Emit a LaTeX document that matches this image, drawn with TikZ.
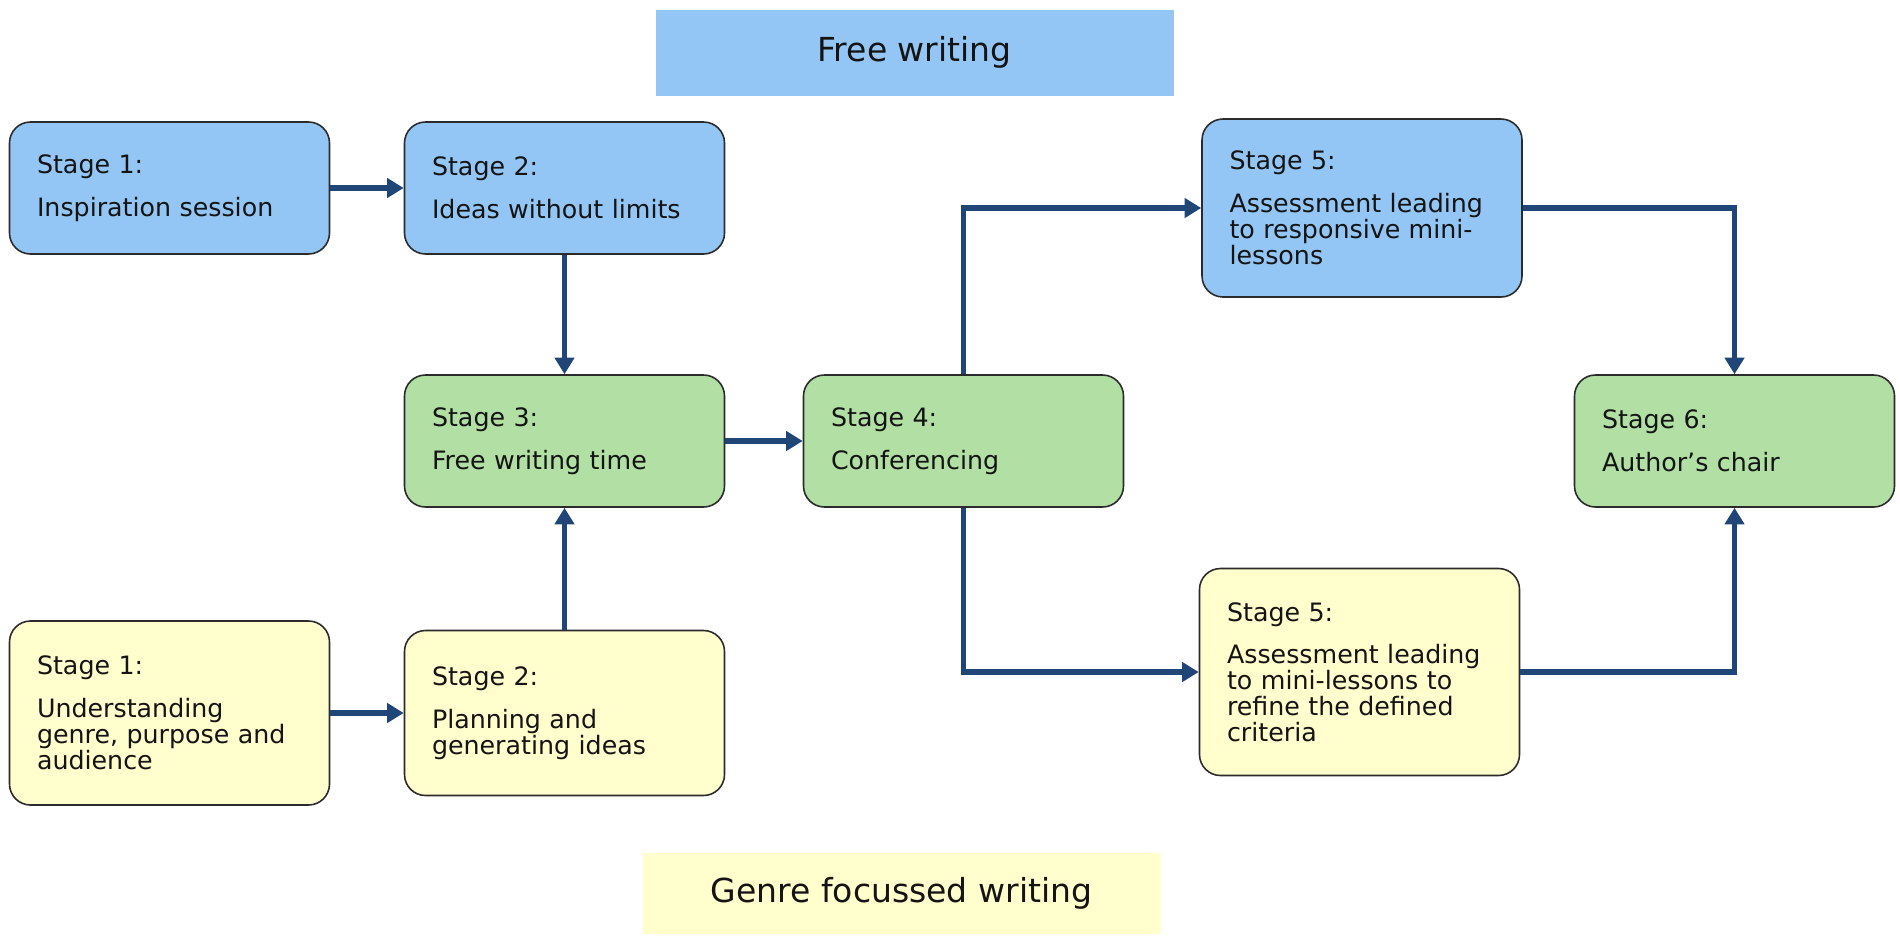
\documentclass[tikz,border=0pt]{standalone}
\usepackage{fontspec}
\setmainfont{DejaVu Sans}
\usetikzlibrary{arrows.meta,positioning}
\definecolor{ink}{HTML}{141414}
\definecolor{edge}{HTML}{2B2B2B}
\definecolor{flow}{HTML}{1F4676}
\definecolor{freefill}{HTML}{93C6F4}
\definecolor{sharedfill}{HTML}{B2DFA4}
\definecolor{genrefill}{HTML}{FFFECC}

\begin{document}
\begin{tikzpicture}[
  font=\fontsize{14.4pt}{14.7pt}\selectfont,
  x=1cm, y=1cm,
  box/.style={draw=edge, line width=0.9pt, rounded corners=0.42cm,
              text width=5.3cm, align=left, inner xsep=0.55cm, inner ysep=0pt,
              minimum height=2.64cm, text=ink},
  free/.style={box, fill=freefill},
  shared/.style={box, fill=sharedfill},
  genre/.style={box, fill=genrefill},
  banner/.style={minimum width=10.36cm, inner sep=0pt, text=ink,
                 font=\fontsize{18.8pt}{20pt}\selectfont},
  ar/.style={-{Triangle[length=0.33cm,width=0.38cm]}, line width=3.3pt,
             draw=flow},
]
\useasboundingbox (0,0) rectangle (38,-18.7);

% ---------------- headings ----------------
\node[banner, fill=freefill, minimum height=1.72cm] (freehead) at (18.29,-1.05) {Free writing};
\node[banner, fill=genrefill, minimum height=1.63cm] (genrehead) at (18.03,-17.87) {Genre focussed writing};

% ---------------- free writing route (top) ----------------
\node[free] (F1) at (3.39,-3.76) {Stage 1:\\[0.34cm]Inspiration session};
\node[free] (F2) at (11.29,-3.76) {Stage 2:\\[0.34cm]Ideas without limits};
\node[free, minimum height=3.56cm] (F5) at (27.24,-4.16)
  {Stage 5:\\[0.34cm]Assessment leading\\to responsive mini-\\lessons};

% ---------------- stages both routes share ----------------
\node[shared] (C3) at (11.29,-8.82) {Stage 3:\\[0.34cm]Free writing time};
\node[shared] (C4) at (19.27,-8.82) {Stage 4:\\[0.34cm]Conferencing};
\node[shared] (C6) at (34.69,-8.82) {Stage 6:\\[0.34cm]Author's chair};

% ---------------- genre focussed route (bottom) ----------------
\node[genre, minimum height=3.68cm] (G1) at (3.39,-14.26)
  {Stage 1:\\[0.34cm]Understanding\\genre, purpose and\\audience};
\node[genre, minimum height=3.30cm] (G2) at (11.29,-14.26)
  {Stage 2:\\[0.34cm]Planning and\\generating ideas};
\node[genre, minimum height=4.14cm] (G5) at (27.19,-13.44)
  {Stage 5:\\[0.34cm]Assessment leading\\to mini-lessons to\\refine the defined\\criteria};

% ---------------- connectors ----------------
\draw[ar] (F1) -- (F2);
\draw[ar] (F2) -- (C3);
\draw[ar] (G1) -- (G2);
\draw[ar] (G2) -- (C3);
\draw[ar] (C3) -- (C4);
\draw[ar] (C4.north) |- (F5.west);
\draw[ar] (C4.south) |- (G5.west);
\draw[ar] (F5.east) -| (C6.north);
\draw[ar] (G5.east) -| (C6.south);

\end{tikzpicture}
\end{document}
